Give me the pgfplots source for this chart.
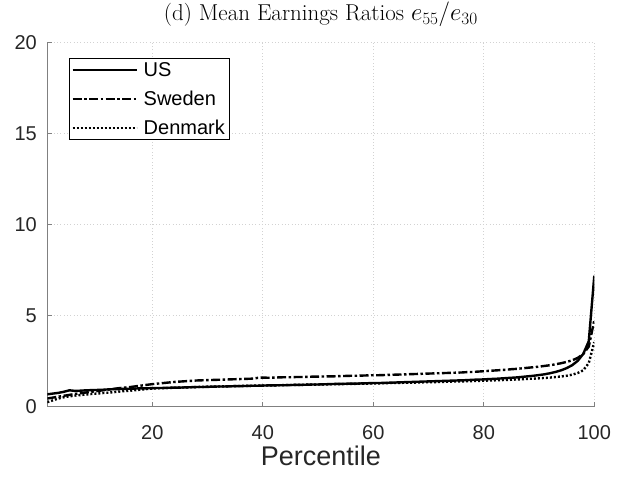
\documentclass[border=0pt]{standalone}
\usepackage{pgfplots}
\pgfplotsset{compat=1.18}
\usepackage{fontspec}
\newfontfamily\hv{Liberation Sans}
\definecolor{axgray}{RGB}{128,128,128}
\definecolor{txt}{RGB}{38,38,38}
\begin{document}
\begin{tikzpicture}
\begin{axis}[
  name=ax, at={(0,0)}, anchor=south west,
  scale only axis, width=547pt, height=364pt,
  xmin=1, xmax=100, ymin=0, ymax=20,
  xtick={20,40,60,80,100}, ytick={0,5,10,15,20},
  axis x line*=bottom, axis y line*=left,
  axis line style={axgray, line width=0.8pt, -},
  tick style={axgray, line width=0.8pt},
  tick align=inside, major tick length=5pt,
  grid=major, major grid style={gray!35, dash pattern=on 0.8pt off 2.5pt, line width=0.6pt},
  /pgf/number format/assume math mode=true,
  ticklabel style={font=\hv\fontsize{20}{24}\selectfont, text=txt},
  xticklabel style={yshift=-15pt},
  yticklabel style={xshift=-7pt},
  xlabel={Percentile},
  xlabel style={font=\hv\fontsize{27}{31}\selectfont, text=txt, yshift=0pt},
  title={(d) Mean Earnings Ratios $e_{55}/e_{30}$},
  title style={font=\fontsize{23}{27}\selectfont, yshift=6pt},
  legend cell align=left,
  legend style={at={(0.0397,0.958)}, anchor=north west, draw=black, line width=0.6pt,
    font=\hv\fontsize{20}{22}\selectfont, row sep=9pt, inner sep=2pt},
  legend image code/.code={\draw[#1] (0pt,0pt) -- (64pt,0pt);},
]
\addplot[black, line width=2.4pt] coordinates {
(1,0.68)(2,0.72)(3,0.76)(4,0.82)(5,0.90)(6,0.87)(7,0.88)(8,0.90)(9,0.91)(10,0.92)
(11,0.93)(12,0.95)(13,0.96)(14,0.97)(15,0.98)(16,0.99)(17,1.00)(18,1.01)(19,1.01)(20,1.02)
(21,1.03)(22,1.03)(23,1.04)(24,1.05)(25,1.05)(26,1.06)(27,1.07)(28,1.08)(29,1.08)(30,1.09)
(31,1.10)(32,1.11)(33,1.11)(34,1.12)(35,1.13)(36,1.13)(37,1.14)(38,1.15)(39,1.15)(40,1.16)
(41,1.17)(42,1.17)(43,1.18)(44,1.18)(45,1.19)(46,1.20)(47,1.20)(48,1.21)(49,1.22)(50,1.22)
(51,1.23)(52,1.24)(53,1.25)(54,1.25)(55,1.26)(56,1.27)(57,1.27)(58,1.28)(59,1.29)(60,1.30)
(61,1.30)(62,1.31)(63,1.32)(64,1.33)(65,1.34)(66,1.35)(67,1.36)(68,1.37)(69,1.38)(70,1.39)
(71,1.40)(72,1.41)(73,1.42)(74,1.43)(75,1.44)(76,1.45)(77,1.46)(78,1.48)(79,1.49)(80,1.50)
(81,1.52)(82,1.53)(83,1.55)(84,1.57)(85,1.59)(86,1.61)(87,1.64)(88,1.67)(89,1.70)(90,1.74)
(91,1.78)(92,1.84)(93,1.91)(94,2.00)(95,2.12)(96,2.28)(97,2.52)(98,2.90)(99,3.60)(100,7.20)
};
\addlegendentry{\hspace{4pt}US}
\addplot[black, line width=2.4pt, dash pattern=on 9pt off 2.5pt on 2.5pt off 2.5pt] coordinates {
(1,0.45)(2,0.50)(3,0.55)(4,0.60)(5,0.65)(6,0.70)(7,0.74)(8,0.78)(9,0.82)(10,0.86)
(11,0.90)(12,0.94)(13,0.98)(14,1.02)(15,1.05)(16,1.08)(17,1.12)(18,1.16)(19,1.20)(20,1.24)
(21,1.27)(22,1.30)(23,1.33)(24,1.36)(25,1.38)(26,1.40)(27,1.42)(28,1.44)(29,1.45)(30,1.46)
(31,1.47)(32,1.48)(33,1.49)(34,1.50)(35,1.51)(36,1.52)(37,1.53)(38,1.54)(39,1.58)(40,1.60)
(41,1.59)(42,1.60)(43,1.61)(44,1.62)(45,1.62)(46,1.63)(47,1.63)(48,1.64)(49,1.65)(50,1.65)
(51,1.66)(52,1.67)(53,1.67)(54,1.68)(55,1.69)(56,1.70)(57,1.70)(58,1.71)(59,1.72)(60,1.73)
(61,1.73)(62,1.74)(63,1.75)(64,1.76)(65,1.77)(66,1.78)(67,1.79)(68,1.80)(69,1.81)(70,1.82)
(71,1.83)(72,1.84)(73,1.85)(74,1.86)(75,1.87)(76,1.88)(77,1.90)(78,1.91)(79,1.93)(80,1.95)
(81,1.97)(82,1.99)(83,2.01)(84,2.03)(85,2.06)(86,2.08)(87,2.11)(88,2.14)(89,2.17)(90,2.20)
(91,2.24)(92,2.28)(93,2.33)(94,2.39)(95,2.46)(96,2.55)(97,2.68)(98,2.90)(99,3.30)(100,4.75)
};
\addlegendentry{\hspace{4pt}Sweden}
\addplot[black, line width=2.4pt, dash pattern=on 2pt off 2pt] coordinates {
(1,0.25)(2,0.35)(3,0.45)(4,0.52)(5,0.57)(6,0.61)(7,0.64)(8,0.67)(9,0.70)(10,0.72)
(11,0.75)(12,0.77)(13,0.80)(14,0.83)(15,0.86)(16,0.88)(17,0.91)(18,0.94)(19,0.97)(20,1.00)
(21,1.01)(22,1.02)(23,1.03)(24,1.04)(25,1.05)(26,1.06)(27,1.07)(28,1.08)(29,1.09)(30,1.10)
(31,1.10)(32,1.11)(33,1.12)(34,1.12)(35,1.13)(36,1.14)(37,1.14)(38,1.15)(39,1.16)(40,1.16)
(41,1.17)(42,1.17)(43,1.18)(44,1.19)(45,1.19)(46,1.20)(47,1.20)(48,1.21)(49,1.21)(50,1.22)
(51,1.22)(52,1.23)(53,1.24)(54,1.24)(55,1.25)(56,1.25)(57,1.26)(58,1.27)(59,1.27)(60,1.28)
(61,1.28)(62,1.29)(63,1.30)(64,1.30)(65,1.31)(66,1.32)(67,1.32)(68,1.33)(69,1.34)(70,1.35)
(71,1.35)(72,1.36)(73,1.37)(74,1.38)(75,1.39)(76,1.39)(77,1.40)(78,1.41)(79,1.42)(80,1.43)
(81,1.44)(82,1.45)(83,1.46)(84,1.47)(85,1.48)(86,1.50)(87,1.51)(88,1.53)(89,1.54)(90,1.56)
(91,1.58)(92,1.60)(93,1.63)(94,1.66)(95,1.70)(96,1.76)(97,1.85)(98,2.00)(99,2.40)(100,3.55)
};
\addlegendentry{\hspace{4pt}Denmark}
\end{axis}
\pgfresetboundingbox
\path (-47.3pt,-71.3pt) rectangle (581.7pt,406.7pt);
\end{tikzpicture}
\end{document}
